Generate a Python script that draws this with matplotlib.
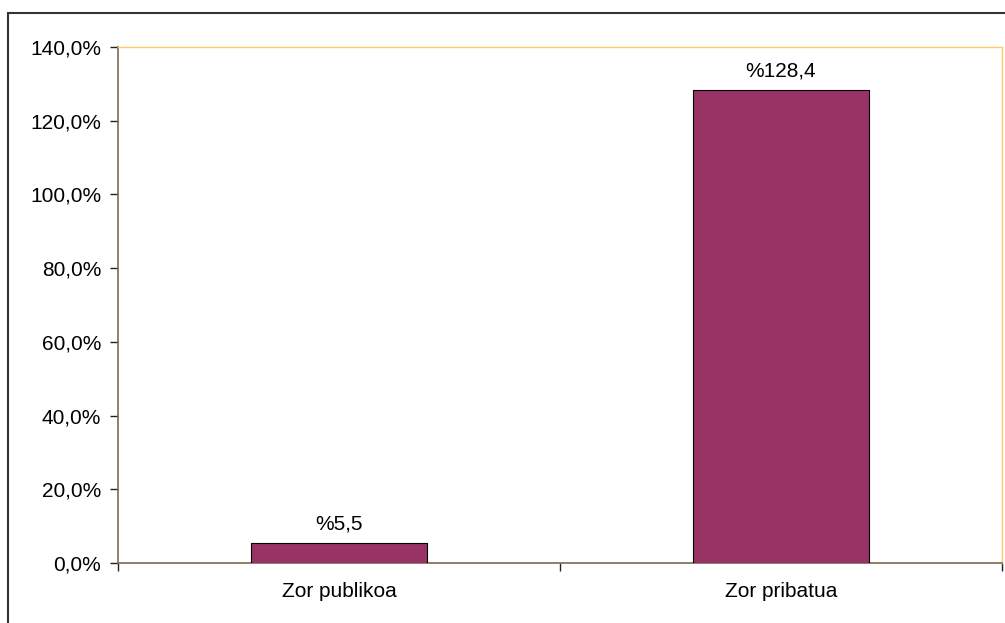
import matplotlib
matplotlib.use("Agg")
import matplotlib.pyplot as plt
from matplotlib.patches import Rectangle
from matplotlib.ticker import FuncFormatter, MultipleLocator

categories = ["Zor publikoa", "Zor pribatua"]
values = [5.5, 128.4]
value_labels = ["%5,5", "%128,4"]

plt.rcParams['font.family'] = ['Liberation Sans', 'DejaVu Sans']
plt.rcParams['font.size'] = 15

fig = plt.figure(figsize=(10.05, 6.23), dpi=100)
ax = fig.add_axes([118 / 1005, 1 - 563 / 623, (1002 - 118) / 1005, (563 - 47) / 623])

# outer chart border (only left/top visible in the reference)
fig.patches.append(Rectangle((8 / 1005, -0.1), 1.2, 1 - 13 / 623 + 0.1,
                             transform=fig.transFigure, fill=False,
                             edgecolor='#333333', linewidth=1.5))

x = list(range(len(categories)))
ax.bar(x, values, width=0.4, color='#993366', edgecolor='black', linewidth=0.8, zorder=3)

for xi, v, lab in zip(x, values, value_labels):
    ax.annotate(lab, (xi, v), xytext=(0, 7), textcoords='offset points',
                ha='center', va='bottom', fontsize=15)

ax.set_xlim(-0.5, 1.5)
ax.set_ylim(0, 140)
ax.yaxis.set_major_locator(MultipleLocator(20))
ax.yaxis.set_major_formatter(FuncFormatter(lambda v, p: f"{v:.1f}%".replace('.', ',')))

ax.set_xticks([-0.5, 0.5, 1.5])
ax.set_xticklabels([])
ax.set_xticks(x, minor=True)
ax.set_xticklabels(categories, minor=True)
ax.tick_params(axis='x', which='minor', length=0, pad=14, labelsize=15)
ax.tick_params(axis='x', which='major', length=6, color='#222222', width=1)
ax.tick_params(axis='y', length=6, color='#222222', width=1, pad=6, labelsize=15)

for side in ['top', 'right']:
    ax.spines[side].set_color('#FFC966')
    ax.spines[side].set_linewidth(1)
for side in ['left', 'bottom']:
    ax.spines[side].set_color('#7F6A4F')
    ax.spines[side].set_linewidth(1.2)

fig.savefig('out.png', dpi=100)
